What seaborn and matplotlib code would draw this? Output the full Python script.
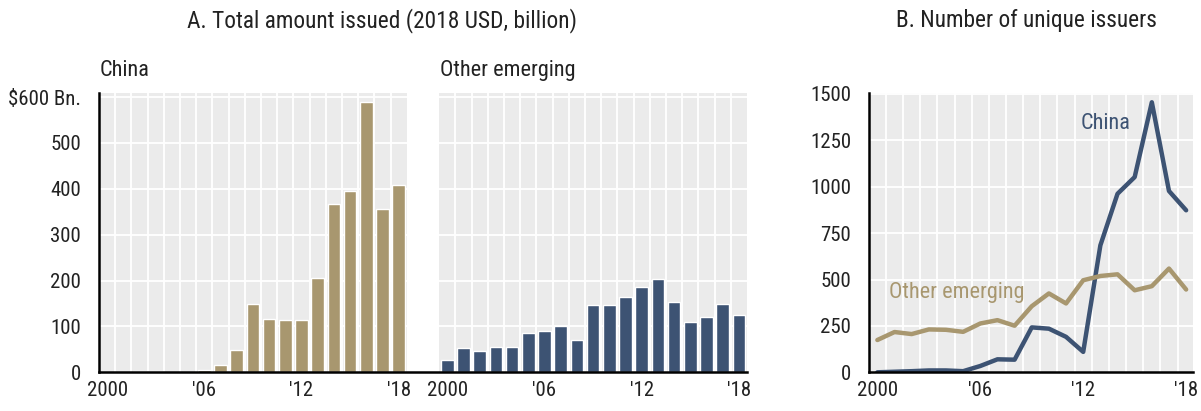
import numpy as np
import pandas as pd
import matplotlib
matplotlib.use("Agg")
import matplotlib.pyplot as plt
import seaborn as sns
from matplotlib import font_manager

# ---------------- data ----------------
years = list(range(2000, 2019))
china_amount = [0, 0, 2, 2, 0, 0, 4, 17, 48, 149, 117, 113, 113, 205, 367, 396, 589, 357, 408]
other_amount = [27, 52, 46, 56, 56, 85, 90, 101, 70, 146, 147, 164, 186, 203, 154, 110, 120, 148, 125]
china_issuers = [0, 3, 6, 10, 10, 6, 34, 70, 68, 242, 235, 191, 110, 684, 962, 1052, 1455, 977, 873]
other_issuers = [174, 217, 206, 231, 229, 218, 263, 281, 251, 356, 425, 371, 496, 519, 528, 442, 464, 559, 446]
year_tick_labels = ["2000", "'06", "'12", "'18"]
amount_ticks = [0, 100, 200, 300, 400, 500, 600]
amount_tick_labels = ["0", "100", "200", "300", "400", "500", "$600 Bn."]
issuer_ticks = [0, 250, 500, 750, 1000, 1250, 1500]

TAN = "#A8976F"
BLUE = "#3D5373"
BG = "#EBEBEB"
TXT = "#222222"

sns.set_theme(style="white")
names = {f.name for f in font_manager.fontManager.ttflist}
FAM = [f for f in ["Roboto Condensed", "Archivo Narrow", "PT Sans Narrow"] if f in names][:1] + ["DejaVu Sans"]
plt.rcParams["font.family"] = FAM

W, H = 1201, 411
fig = plt.figure(figsize=(W / 100, H / 100), dpi=100)

def px_axes(l, t, r, b):
    return fig.add_axes([l / W, 1 - b / H, (r - l) / W, (b - t) / H])

FS = 15
FS_TITLE = 16.8
FS_LABEL = 16

# ---------------- Panel A ----------------
axA = px_axes(99, 93, 747, 372.3)
offset = 21
n = len(years)
dfA = pd.DataFrame({
    "pos": list(range(n)) + [i + offset for i in range(n)],
    "value": china_amount + other_amount,
    "group": ["China"] * n + ["Other emerging"] * n,
})
YTOP_A = 609
axA.set_xlim(-0.5, offset + n - 0.5)
axA.set_ylim(0, YTOP_A)
for start in (0, offset):
    axA.axvspan(start - 0.5, start + n - 0.5, color=BG, zorder=0, lw=0)
    for yv in amount_ticks[1:]:
        axA.hlines(yv, start - 0.5, start + n - 0.5, color="white", lw=1.3, zorder=0.5)
    for k in range(n - 1):
        axA.vlines(start + k + 0.5, 0, YTOP_A, color="white", lw=1.3, zorder=0.5)

sns.barplot(data=dfA, x="pos", y="value", hue="group", palette=[TAN, BLUE],
            native_scale=True, width=0.78, ax=axA, legend=False,
            saturation=1, zorder=2)

axA.set_xticks([0, 6, 12, 18, offset, offset + 6, offset + 12, offset + 18])
axA.set_xticklabels(year_tick_labels * 2)
axA.set_yticks(amount_ticks)
axA.set_yticklabels(amount_tick_labels)
axA.set_xlabel("")
axA.set_ylabel("")
axA.tick_params(axis="x", length=0, pad=6, labelsize=FS, colors=TXT)
axA.tick_params(axis="y", direction="in", length=5, width=1.5, pad=13, labelsize=FS,
                colors=TXT)
for s in ("top", "right"):
    axA.spines[s].set_visible(False)
for s in ("left", "bottom"):
    axA.spines[s].set_color("black")
    axA.spines[s].set_linewidth(1.8)
    axA.spines[s].set_zorder(3)

axA.text(-0.45, 1.08, "China", transform=axA.get_xaxis_transform(), fontsize=FS_LABEL,
         ha="left", va="center", color=TXT)
axA.text(offset - 0.45, 1.08, "Other emerging", transform=axA.get_xaxis_transform(),
         fontsize=FS_LABEL, ha="left", va="center", color=TXT)

fig.text(382 / W, 1 - 21 / H, "A. Total amount issued (2018 USD, billion)", fontsize=FS_TITLE,
         ha="center", va="center", color=TXT)

# ---------------- Panel B ----------------
axB = px_axes(869.3, 93, 1193, 372.3)
dfB = pd.DataFrame({
    "year": years * 2,
    "issuers": china_issuers + other_issuers,
    "group": ["China"] * n + ["Other emerging"] * n,
})
axB.set_facecolor(BG)
axB.set_xlim(1999.53, 2018.4)
axB.set_ylim(0, 1505)
for yv in issuer_ticks[1:]:
    axB.axhline(yv, color="white", lw=1.3, zorder=0.5)
for k in range(n - 1):
    axB.axvline(years[k] + 0.5, color="white", lw=1.3, zorder=0.5)

sns.lineplot(data=dfB, x="year", y="issuers", hue="group", palette=[BLUE, TAN],
             linewidth=3.2, ax=axB, legend=False, zorder=2)

axB.set_xticks([2000, 2006, 2012, 2018])
axB.set_xticklabels(year_tick_labels)
axB.set_yticks(issuer_ticks)
axB.set_xlabel("")
axB.set_ylabel("")
axB.tick_params(axis="x", length=0, pad=6, labelsize=FS, colors=TXT)
axB.tick_params(axis="y", direction="in", length=5, width=1.5, pad=13, labelsize=FS,
                colors=TXT)
for s in ("top", "right"):
    axB.spines[s].set_visible(False)
for s in ("left", "bottom"):
    axB.spines[s].set_color("black")
    axB.spines[s].set_linewidth(1.8)
    axB.spines[s].set_zorder(3)

axB.text(2013.3, 1340, "China", fontsize=FS_LABEL, color=BLUE, ha="center", va="center")
axB.text(2004.6, 432, "Other emerging", fontsize=FS_LABEL, color=TAN, ha="center", va="center")

fig.text(1026 / W, 1 - 21 / H, "B. Number of unique issuers", fontsize=FS_TITLE,
         ha="center", va="center", color=TXT)

fig.savefig("out.png", dpi=100, facecolor="white")
